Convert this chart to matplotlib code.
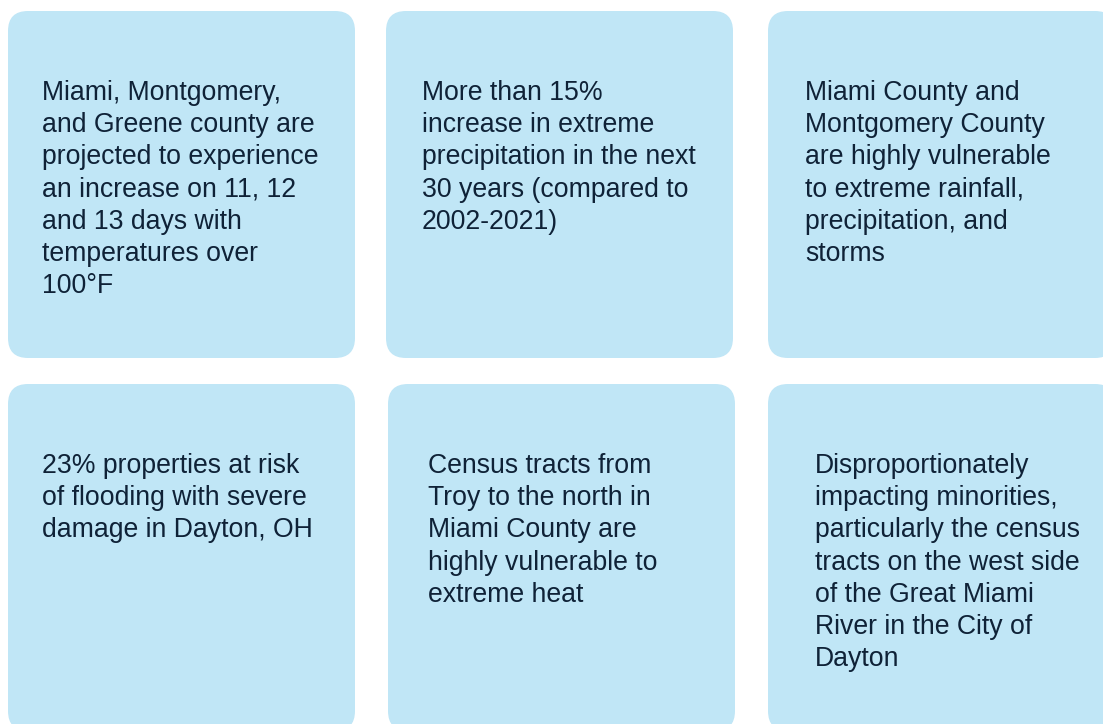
import matplotlib
matplotlib.use("Agg")
import matplotlib.pyplot as plt
from matplotlib.patches import FancyBboxPatch

plt.rcParams['font.family'] = ['Liberation Sans', 'DejaVu Sans']

# card texts, row by row
card_texts = [
    "Miami, Montgomery,\nand Greene county are\nprojected to experience\nan increase on 11, 12\nand 13 days with\ntemperatures over\n100°F",
    "More than 15%\nincrease in extreme\nprecipitation in the next\n30 years (compared to\n2002-2021)",
    "Miami County and\nMontgomery County\nare highly vulnerable\nto extreme rainfall,\nprecipitation, and\nstorms",
    "23% properties at risk\nof flooding with severe\ndamage in Dayton, OH",
    "Census tracts from\nTroy to the north in\nMiami County are\nhighly vulnerable to\nextreme heat",
    "Disproportionately\nimpacting minorities,\nparticularly the census\ntracts on the west side\nof the Great Miami\nRiver in the City of\nDayton",
]
# card left edges / top edges (pixels)
card_x = [8, 386, 768, 8, 388, 768]
card_y = [11, 11, 11, 384, 384, 384]
text_x = [42, 422, 805, 42, 428, 815]

card_color = '#C0E6F6'
text_color = '#0F2237'

fig = plt.figure(figsize=(11.03, 7.24), dpi=100)
ax = fig.add_axes([0, 0, 1, 1])
ax.set_xlim(0, 1103)
ax.set_ylim(724, 0)
ax.axis('off')

for i, txt in enumerate(card_texts):
    box = FancyBboxPatch((card_x[i], card_y[i]), 347, 347,
                         boxstyle="round,pad=0,rounding_size=20",
                         facecolor=card_color, edgecolor='none')
    ax.add_patch(box)
    ax.text(text_x[i], card_y[i] + 69, txt, ha='left', va='top',
            fontsize=19.2, color=text_color, linespacing=1.31)

fig.savefig('out.png', dpi=100, facecolor='white')
